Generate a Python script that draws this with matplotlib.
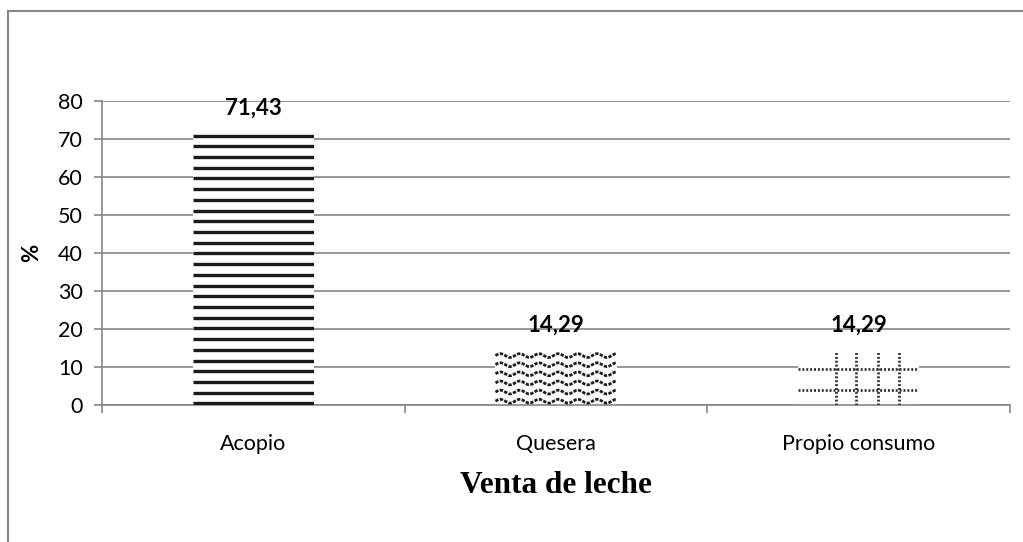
import numpy as np
import matplotlib.pyplot as plt
from matplotlib.patches import Rectangle

categorias = ['Acopio', 'Quesera', 'Propio consumo']
valores = [71.43, 14.29, 14.29]
etiquetas = ['71,43', '14,29', '14,29']
yticks = [0, 10, 20, 30, 40, 50, 60, 70, 80]

plt.rcParams['font.family'] = ['Lato', 'DejaVu Sans']

fig = plt.figure(figsize=(10.23, 5.42), dpi=100)
ax = fig.add_axes([0.0997, 0.2528, 0.8876, 0.5609])

# marco exterior
fig.patches.append(Rectangle((8/1023, -0.1), 1.2, 0.1 + 1 - 11/542, transform=fig.transFigure,
                             fill=False, edgecolor='#868686', lw=1.5, clip_on=False))

x = np.arange(len(categorias))
ancho = 0.4
gris = '#868686'
tinta = '#1a1a1a'

barras = ax.bar(x, valores, width=ancho, color='white', edgecolor='none', zorder=2)

# rayas horizontales (Acopio)
b = barras[0]
bx, bw, bh = b.get_x(), b.get_width(), b.get_height()
for yy in np.arange(0.4, bh, 2.82):
    l = ax.plot([bx, bx + bw], [yy, yy], color=tinta, lw=2.4, zorder=3, solid_capstyle='butt')[0]
    l.set_clip_path(b)

# ondas (Quesera)
b = barras[1]
bx, bw, bh = b.get_x(), b.get_width(), b.get_height()
xs = np.linspace(bx, bx + bw, 300)
for yy in np.arange(1.0, bh + 1, 2.4):
    ys = yy + 0.5 * np.sin(2 * np.pi * (xs - bx) / 0.064)
    l = ax.plot(xs, ys, color='#1f1f1f', lw=2.0, ls=(0, (1.2, 0.5)), zorder=3)[0]
    l.set_clip_path(b)

# rejilla punteada (Propio consumo)
b = barras[2]
bx, bw, bh = b.get_x(), b.get_width(), b.get_height()
for f in [0.31, 0.48, 0.66, 0.83]:
    l = ax.plot([bx + f * bw] * 2, [0, bh], ls=(0, (0.7, 0.7)), color='#333333', lw=2, zorder=3)[0]
    l.set_clip_path(b)
for f in [0.27, 0.66]:
    l = ax.plot([bx, bx + bw], [f * bh] * 2, ls=(0, (0.7, 0.7)), color='#333333', lw=2, zorder=3)[0]
    l.set_clip_path(b)

for xi, v, t in zip(x, valores, etiquetas):
    ax.annotate(t, (xi, v), xytext=(0, 11), textcoords='offset points', ha='center',
                va='bottom', fontsize=16, fontweight='bold')

ax.set_xlim(-0.5, len(categorias) - 0.5)
ax.set_ylim(0, 80)
ax.set_yticks(yticks)
ax.set_yticklabels([str(t) for t in yticks], fontsize=15.5)
ax.set_xticks(x)
ax.set_xticklabels(categorias, fontsize=15.5)
ax.set_xticks(np.arange(len(categorias) + 1) - 0.5, minor=True)
ax.tick_params(axis='x', which='major', length=0, pad=21)
ax.tick_params(axis='x', which='minor', length=6, color=gris, width=1.2)
ax.tick_params(axis='y', length=6, color=gris, width=1.2, pad=8)

ax.yaxis.grid(True, color=gris, lw=1.2, zorder=0)
ax.set_axisbelow(True)
for s in ['top', 'right']:
    ax.spines[s].set_visible(False)
for s in ['left', 'bottom']:
    ax.spines[s].set_color(gris)
    ax.spines[s].set_linewidth(1.2)

ax.set_ylabel('%', fontsize=16, fontweight='bold', labelpad=11)
ax.set_xlabel('Venta de leche', fontsize=22.5, fontweight='bold', family='Liberation Serif', labelpad=12)

fig.savefig('out.png', dpi=100)
